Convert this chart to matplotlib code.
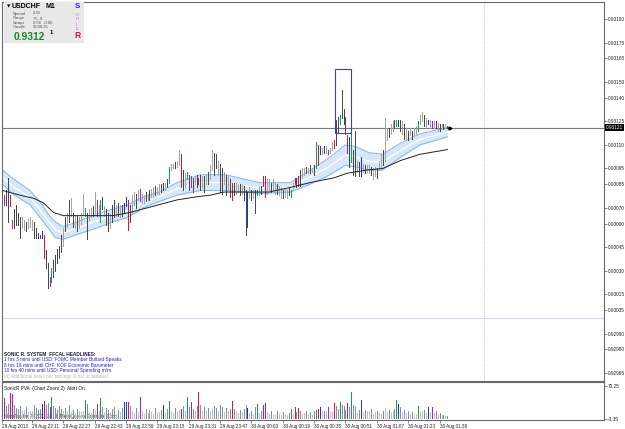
import numpy as np
import matplotlib
matplotlib.use("Agg")
import matplotlib.pyplot as plt
from matplotlib.patches import Rectangle
from matplotlib.transforms import blended_transform_factory

plt.rcParams['font.family'] = ['Liberation Sans', 'DejaVu Sans']

W, H = 625, 429

# ---------------- data (prices in points, 1 point = 0.00001) ----------------
high_pts = [
    93114, 93078, 93081, 93089, 93078, 93062, 93069, 93072, 93067, 93064,
    93064, 93062, 93061, 93063, 93064, 93062, 93061, 93057, 93054, 93053,
    93055, 93053, 93043, 93035, 93026, 93032, 93037, 93040, 93044, 93046,
    93053, 93057, 93064, 93067, 93075, 93076, 93067, 93065, 93065, 93064,
    93067, 93079, 93070, 93067, 93069, 93070, 93071, 93080, 93075, 93072,
    93075, 93077, 93071, 93069, 93067, 93066, 93072, 93075, 93072, 93073,
    93072, 93072, 93073, 93077, 93075, 93072, 93078, 93080, 93079, 93081,
    93082, 93079, 93078, 93080, 93079, 93081, 93082, 93083, 93084, 93083,
    93085, 93085, 93086, 93086, 93088, 93096, 93098, 93098, 93099, 93100,
    93107, 93104, 93094, 93092, 93093, 93091, 93090, 93089, 93090, 93091,
    93089, 93091, 93090, 93090, 93091, 93093, 93097, 93107, 93105, 93104,
    93100, 93098, 93095, 93093, 93091, 93090, 93088, 93086, 93086, 93086,
    93085, 93085, 93085, 93084, 93081, 93080, 93083, 93081, 93081, 93081,
    93081, 93083, 93084, 93090, 93090, 93088, 93088, 93086, 93088, 93086,
    93085, 93084, 93083, 93081, 93082, 93081, 93083, 93081, 93086, 93089,
    93089, 93090, 93094, 93095, 93095, 93096, 93095, 93097, 93095, 93097,
    93112, 93110, 93109, 93108, 93109, 93109, 93107, 93108, 93112, 93113,
    93126, 93128, 93129, 93145, 93133, 93128, 93116, 93115, 93119, 93107,
    93119, 93100, 93099, 93102, 93098, 93097, 93097, 93097, 93096, 93095,
    93096, 93095, 93100, 93105, 93107, 93127, 93121, 93121, 93123, 93125,
    93126, 93126, 93126, 93126, 93125, 93123, 93121, 93119, 93121, 93119,
    93121, 93122, 93125, 93129, 93131, 93129, 93127, 93126, 93126, 93125,
    93125, 93125, 93124, 93123, 93123, 93123, 93123, 93122,
]
low_pts = [
    93093, 93072, 93072, 93061, 93071, 93057, 93057, 93059, 93059, 93051,
    93057, 93056, 93055, 93057, 93058, 93056, 93051, 93051, 93051, 93051,
    93051, 93038, 93032, 93019, 93020, 93023, 93026, 93030, 93035, 93038,
    93042, 93046, 93055, 93058, 93061, 93065, 93058, 93057, 93055, 93057,
    93060, 93066, 93065, 93050, 93062, 93064, 93065, 93067, 93065, 93065,
    93061, 93069, 93065, 93059, 93055, 93057, 93061, 93064, 93065, 93065,
    93064, 93065, 93067, 93071, 93056, 93061, 93067, 93072, 93070, 93075,
    93074, 93073, 93073, 93074, 93075, 93075, 93077, 93077, 93078, 93079,
    93079, 93080, 93081, 93081, 93083, 93086, 93094, 93095, 93095, 93096,
    93097, 93083, 93081, 93083, 93088, 93081, 93083, 93080, 93085, 93083,
    93085, 93081, 93083, 93080, 93085, 93085, 93088, 93094, 93091, 93095,
    93091, 93080, 93079, 93085, 93078, 93081, 93077, 93075, 93078, 93079,
    93080, 93078, 93079, 93075, 93053, 93058, 93076, 93075, 93076, 93067,
    93078, 93078, 93079, 93084, 93077, 93079, 93081, 93080, 93081, 93079,
    93079, 93078, 93076, 93076, 93077, 93076, 93078, 93077, 93081, 93085,
    93083, 93084, 93084, 93089, 93091, 93092, 93092, 93092, 93093, 93091,
    93095, 93097, 93104, 93104, 93105, 93105, 93104, 93105, 93107, 93108,
    93110, 93118, 93123, 93127, 93123, 93117, 93105, 93096, 93099, 93091,
    93090, 93093, 93090, 93090, 93093, 93092, 93093, 93092, 93091, 93088,
    93090, 93089, 93094, 93095, 93097, 93100, 93113, 93115, 93117, 93119,
    93121, 93122, 93122, 93119, 93117, 93114, 93113, 93113, 93116, 93114,
    93116, 93117, 93119, 93123, 93125, 93122, 93121, 93123, 93121, 93121,
    93121, 93121, 93119, 93119, 93121, 93120, 93121, 93121,
]
# r=climax bear, g=climax bull, b=rising bull, p=rising bear, l=normal bull, d=normal bear
bar_codes = (
    "rpddrpdddd" "lldllldddd" "brddpgdddd" "dldldldldl" "llgdlldlpl"
    "gdlddlddld" "ldbbrdlldl" "plldldlldl" "ldbldglldl" "lrdlgdpdld"
    "rdldldlldd" "lddldldrdl" "ldlddbldld" "gldrrlldll" "dlldlldglr"
    "drdlldldld" "grbldlpllr" "ddgdddpdgd" "dldbldlldl" "ldlldlldll"
    "dgbdldldld" "llglldlblp" "ldldldld"
)
volume = [
    62, 43, 25, 30, 55, 53, 28, 22, 20, 26,
    15, 18, 24, 12, 16, 14, 27, 22, 18, 20,
    30, 36, 28, 32, 24, 46, 25, 22, 18, 26,
    20, 14, 22, 16, 28, 12, 18, 10, 20, 14,
    12, 16, 38, 30, 12, 10, 20, 15, 30, 14,
    43, 24, 12, 22, 18, 10, 20, 24, 8, 18,
    12, 22, 34, 34, 35, 26, 15, 10, 22, 12,
    45, 14, 8, 20, 10, 18, 12, 8, 22, 10,
    12, 18, 28, 10, 20, 37, 14, 10, 22, 12,
    18, 20, 26, 14, 46, 24, 34, 20, 16, 26,
    56, 28, 14, 24, 18, 22, 16, 20, 26, 22,
    16, 28, 24, 12, 22, 16, 20, 36, 20, 14,
    10, 18, 12, 20, 28, 22, 10, 16, 8, 24,
    30, 10, 16, 27, 33, 12, 8, 14, 6, 8,
    14, 8, 6, 12, 8, 6, 10, 20, 8, 24,
    12, 22, 16, 8, 10, 14, 8, 12, 6, 14,
    18, 20, 24, 14, 16, 14, 24, 12, 14, 33,
    26, 20, 34, 28, 26, 18, 33, 24, 57, 28,
    26, 10, 18, 38, 12, 18, 14, 16, 20, 8,
    12, 14, 10, 8, 16, 22, 12, 18, 10, 14,
    20, 38, 30, 24, 12, 18, 10, 14, 8, 12,
    6, 8, 26, 12, 14, 18, 10, 24, 12, 24,
    10, 14, 8, 10, 6, 6, 4, 4,
]

# EMA band (high/low envelope) sampled from the chart, points
band_idx = [0, 6, 14, 19, 24, 27, 31, 38, 50, 56, 64, 72, 80, 89, 101, 114,
            124, 131, 147, 157, 167, 175, 180, 187, 194, 203, 213, 227]
band_upper = [93094, 93088, 93081, 93074, 93065, 93061, 93058, 93061, 93067, 93069,
              93072, 93077, 93080, 93086, 93091, 93091, 93088, 93086, 93086, 93094,
              93102, 93110, 93109, 93105, 93104, 93111, 93117, 93121]
band_lower = [93085, 93078, 93072, 93064, 93056, 93051, 93050, 93053, 93058, 93061,
              93064, 93070, 93074, 93078, 93081, 93081, 93080, 93079, 93080, 93085,
              93091, 93097, 93096, 93094, 93094, 93102, 93110, 93115]
# slow EMA (black line)
slow_idx = [0, 9, 16, 21, 26, 31, 38, 50, 56, 65, 77, 89, 99, 106, 113, 136,
            147, 157, 169, 176, 186, 194, 203, 213, 227]
slow_ema = [93081, 93078, 93076, 93073, 93067, 93065, 93065, 93065, 93065, 93067,
            93071, 93075, 93077, 93078, 93080, 93080, 93083, 93086, 93089, 93092,
            93094, 93095, 93100, 93104, 93107]

last_price = 0.93121
round_level = 0.93000
y_ticks = [0.93190, 0.93175, 0.93165, 0.93150, 0.93140, 0.93125, 0.93110, 0.93095,
           0.93085, 0.93070, 0.93060, 0.93045, 0.93030, 0.93015, 0.93005, 0.92990,
           0.92980, 0.92965]
time_tick_idx = [0, 15, 31, 47, 63, 79, 95, 111, 127, 143, 159, 175, 191, 207, 223]
time_tick_labels = ["29 Aug 2013", "29 Aug 22:11", "29 Aug 22:27", "29 Aug 22:43",
                    "29 Aug 22:59", "29 Aug 23:15", "29 Aug 23:31", "29 Aug 23:47",
                    "30 Aug 00:03", "30 Aug 00:19", "30 Aug 00:35", "30 Aug 00:51",
                    "30 Aug 01:07", "30 Aug 01:23", "30 Aug 01:39"]
vol_ticks = [70.25, -3.35]
box_bars = (169.6, 177.8)
box_prices = (0.931175, 0.931582)
separator_bar = 245.7

headlines = [
    ("SONIC R. SYSTEM  FFCAL HEADLINES:", '#1c1c3c', 'bold'),
    ("1 hrs 3 mins until USD: FOMC Member Bullard Speaks", '#2020e0', 'normal'),
    ("8 hrs 18 mins until CHF: KOF Economic Barometer", '#2020e0', 'normal'),
    ("10 hrs 40 mins until USD: Personal Spending m/m", '#2020e0', 'normal'),
    ("(4) Additional news per settings is not scheduled", '#b8b8b8', 'normal'),
]

# ---------------- figure ----------------
high = np.array(high_pts) * 1e-5
low = np.array(low_pts) * 1e-5
idx = np.arange(len(high))
price_cols = {'r': '#e0103c', 'g': '#12a050', 'b': '#1834d8', 'p': '#a01ee8',
              'l': '#a4a4a4', 'd': '#484848'}
vol_cols = {'r': '#e0104a', 'g': '#12a050', 'b': '#1834d8', 'p': '#a01ee8',
            'l': '#bcc2ca', 'd': '#868e98'}

fig = plt.figure(figsize=(W / 100, H / 100), dpi=100)
fig.patch.set_facecolor('white')


def fr(x0, y0, x1, y1):
    return [x0 / W, 1 - y1 / H, (x1 - x0) / W, (y1 - y0) / H]


ax = fig.add_axes(fr(2, 2, 604, 381))
vax = fig.add_axes(fr(2, 382, 604, 420))

xl = (-0.25, -0.25 + 602 / 1.96)
for a in (ax, vax):
    a.set_xlim(*xl)
    for s in a.spines.values():
        s.set_color('#6a6a6a')
        s.set_linewidth(0.8)

ax.set_ylim(0.9295990, 0.9320080)

# band
bi = np.array(band_idx)
bu = np.array(band_upper) * 1e-5
bl = np.array(band_lower) * 1e-5
ax.fill_between(bi, bl, bu, color='#d6e7f8', lw=0, zorder=1)
ax.plot(bi, bu, color='#8cbbe8', lw=0.8, zorder=1.5)
ax.plot(bi, bl, color='#8cbbe8', lw=0.8, zorder=1.5)
ax.plot(bi, (bu + bl) / 2, color='white', lw=1.0, zorder=1.5)

# reference lines
ax.axhline(last_price, color='#7a7a7a', lw=0.8, zorder=1.6)
ax.axhline(round_level, color='#dcdcf4', lw=1.0, zorder=1)
ax.axvline(separator_bar, color='#b0b0b0', lw=0.6, ls=(0, (1, 1.5)), zorder=1)

# bars
ax.vlines(idx, low, high, colors=[price_cols[c] for c in bar_codes], lw=0.72,
          antialiased=False, zorder=2)

# slow EMA
ax.plot(slow_idx, np.array(slow_ema) * 1e-5, color='#222222', lw=0.7, zorder=3)

# highlight box
ax.add_patch(Rectangle((box_bars[0], box_prices[0]), box_bars[1] - box_bars[0],
                       box_prices[1] - box_prices[0], fill=False, ec='#3c3cdc', lw=0.8, zorder=4))
ax.plot([len(high) + 0.3], [last_price], marker='>', ms=2.2, color='black', zorder=4)

ax.set_xticks([])
ax.yaxis.tick_right()
ax.set_yticks(y_ticks, labels=[f"{v:.5f}" for v in y_ticks])
ax.tick_params(axis='y', length=2, width=0.5, color='#555555', labelsize=3.4, pad=0.8,
               labelcolor='#222222')
tr = blended_transform_factory(ax.transAxes, ax.transData)
ax.text(1.003, last_price, f"{last_price:.5f}", transform=tr, color='white', fontsize=3.4,
        va='center', ha='left', zorder=10, clip_on=False,
        bbox=dict(boxstyle='square,pad=0.15', fc='black', ec='none'))

# volume pane
vax.set_ylim(-4.5, 78)
vax.vlines(idx, 0, volume, colors=[vol_cols[c] for c in bar_codes], lw=0.72,
           antialiased=False, zorder=2)
vax.yaxis.tick_right()
vax.set_yticks(vol_ticks, labels=["70.25", "-3.35"])
vax.tick_params(axis='y', length=2, width=0.5, color='#555555', labelsize=3.4, pad=0.8,
                labelcolor='#222222')
vax.set_xticks(time_tick_idx, labels=time_tick_labels)
vax.tick_params(axis='x', length=2, width=0.5, color='#555555', labelsize=3.3, pad=0.8,
                labelcolor='#222222')
for lab in vax.get_xticklabels():
    lab.set_ha('left')


def ptxt(x, y, s, **kw):
    kw.setdefault('va', 'center')
    kw.setdefault('ha', 'left')
    return fig.text(x / W, 1 - y / H, s, **kw)


# info panel
fig.add_artist(Rectangle((4 / W, 1 - 43 / H), 80 / W, 41 / H, transform=fig.transFigure,
                         fc='#e8e8e8', ec='none', zorder=5))
ptxt(7, 6.5, "\u25bc", fontsize=3.2, color='black', family=['DejaVu Sans'], zorder=6)
ptxt(12, 6.5, "USDCHF", fontsize=5.0, weight='bold', color='black', zorder=6)
ptxt(45, 6.5, "M1", fontsize=5.0, weight='bold', color='black', zorder=6)
for k, (a_, b_) in enumerate([("Spread", "2.30"), ("Range", "75, 9"),
                              ("Swaps", "0.56  -0.80"), ("Candle", "00:00:35")]):
    ptxt(13, 13.5 + k * 4.6, a_, fontsize=3.0, color='#555555', zorder=6)
    ptxt(33, 13.5 + k * 4.6, b_, fontsize=3.0, color='#555555', zorder=6)
ptxt(14, 36.5, "0.9312", fontsize=7.4, weight='bold', color='#1a8a2a', zorder=6)
ptxt(50, 33, "1", fontsize=4.2, weight='bold', color='black', zorder=6)
ptxt(74.5, 6.5, "S", fontsize=5.8, weight='bold', color='#2a2ae0', zorder=6)
for ch, yy, cc in [("o", 14, '#8c8cf0'), ("n", 19, '#a878e0'), ("i", 24, '#d070c0'),
                   ("c", 28.5, '#e0508a')]:
    ptxt(76, yy, ch, fontsize=3.6, color=cc, zorder=6)
ptxt(74.5, 36, "R", fontsize=6.2, weight='bold', color='#e0103c', zorder=6)

# headlines
for k, (s, c, w) in enumerate(headlines):
    ptxt(4, 354 + k * 5.6, s, fontsize=3.4, color=c, weight=w, zorder=6)

# volume pane captions
ptxt(4, 388.5, "SonicR PVA  (Chart Zoom 2)", fontsize=3.4, color='#111111', zorder=6)
ptxt(67, 388.5, "Alert On", fontsize=3.4, color='#111111', zorder=6)
vax.text(4 / W, 1 - 416 / H, "MetaTrader, \u00a9 2001-2013, MetaQuotes Software Corp.",
         transform=fig.transFigure, fontsize=3.3, color='#333333', va='center', ha='left',
         zorder=1)

fig.savefig("out.png", dpi=100, facecolor='white')
